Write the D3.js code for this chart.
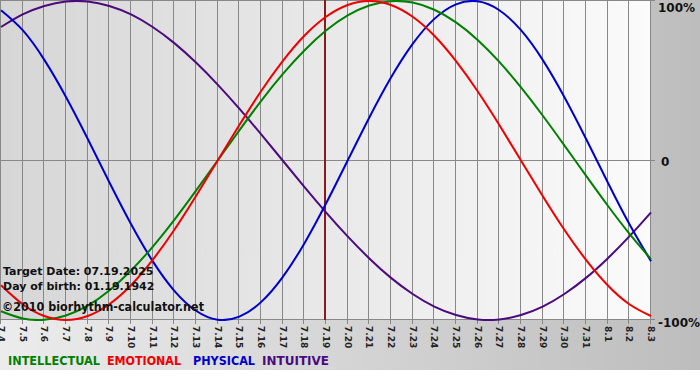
<!DOCTYPE html>
<html>
<head>
<meta charset="utf-8">
<script src="https://cdn.jsdelivr.net/npm/d3@7"></script>
<style>
  body { margin: 0; background: #fff; }
  svg { display: block; font-family: "DejaVu Sans", Verdana, sans-serif; }
</style>
</head>
<body>
<svg id="chart" width="700" height="380"></svg>
<script>
// days shown on the chart
var days = ['7.4', '7.5', '7.6', '7.7', '7.8', '7.9', '7.10', '7.11', '7.12', '7.13', '7.14', '7.15',
    '7.16', '7.17', '7.18', '7.19', '7.20', '7.21', '7.22', '7.23', '7.24', '7.25', '7.26', '7.27',
    '7.28', '7.29', '7.30', '7.31', '8.1', '8.2', '8.3'];

var intellectual = [-0.945, -0.990, -0.999, -0.972, -0.910, -0.815, -0.690, -0.541, -0.372, -0.189,
    0, 0.189, 0.372, 0.541, 0.690, 0.815, 0.910, 0.972, 0.999, 0.990, 0.945, 0.866, 0.756, 0.618,
    0.458, 0.282, 0.095, -0.095, -0.282, -0.458, -0.618];
var emotional = [-0.782, -0.901, -0.975, -1.0, -0.975, -0.901, -0.782, -0.623, -0.434, -0.222,
    0, 0.222, 0.434, 0.623, 0.782, 0.901, 0.975, 1.0, 0.975, 0.901, 0.782, 0.623, 0.434, 0.222,
    0, -0.222, -0.434, -0.623, -0.782, -0.901, -0.975];
var physical = [0.942, 0.817, 0.631, 0.398, 0.136, -0.136, -0.398, -0.631, -0.817, -0.942,
    -0.998, -0.979, -0.888, -0.731, -0.520, -0.270, 0, 0.270, 0.520, 0.731, 0.888, 0.979, 0.998,
    0.942, 0.817, 0.631, 0.398, 0.136, -0.136, -0.398, -0.631];
var intuitive = [0.837, 0.916, 0.969, 0.997, 0.997, 0.969, 0.916, 0.837, 0.736, 0.614,
    0.476, 0.325, 0.165, 0, -0.165, -0.325, -0.476, -0.614, -0.736, -0.837, -0.916, -0.969,
    -0.997, -0.997, -0.969, -0.916, -0.837, -0.736, -0.614, -0.476, -0.325];

var targetDay = '7.19';
var yTicks = [1, 0, -1];
var yTickLabels = ['100%', '0', '-100%'];
var legend = ['INTELLECTUAL', 'EMOTIONAL', 'PHYSICAL', 'INTUITIVE'];
var colors = ['#008000', '#ee0000', '#0000cc', '#4b0a7d'];
var infoLines = ['Target Date: 07.19.2025', 'Day of birth: 01.19.1942'];
var copyright = '\u00a92010 biorhythm-calculator.net';

var svg = d3.select('#chart');
// note: "top" is taken by window.top, so use plot* names
var plotL = 1, plotR = 651, plotT = 1, plotB = 320;

var x = d3.scalePoint().domain(days).range([plotL, plotR]);
var y = d3.scaleLinear().domain([-1, 1]).range([plotB, plotT]);

var defs = svg.append('defs');
var bgGrad = defs.append('linearGradient').attr('id', 'bg');
bgGrad.append('stop').attr('offset', '0%').attr('stop-color', '#ececec');
bgGrad.append('stop').attr('offset', '100%').attr('stop-color', '#bdbdbd');
var plotGrad = defs.append('linearGradient').attr('id', 'plotbg');
plotGrad.append('stop').attr('offset', '0%').attr('stop-color', '#d6d6d6');
plotGrad.append('stop').attr('offset', '100%').attr('stop-color', '#fbfbfb');
defs.append('clipPath').attr('id', 'clip')
    .append('rect').attr('x', plotL - 1).attr('y', 0).attr('width', plotR - plotL + 2).attr('height', plotB + 1);

// outer background
svg.append('rect').attr('width', 700).attr('height', 370).attr('fill', 'url(#bg)');
svg.append('rect').attr('x', plotL - 1).attr('y', 0).attr('width', plotR - plotL + 1).attr('height', plotB)
    .attr('fill', 'url(#plotbg)');

// vertical grid with ticks below the plot
svg.append('g').selectAll('line').data(days).enter().append('line')
    .attr('x1', function (d) { return Math.round(x(d)) - 0.5; })
    .attr('x2', function (d) { return Math.round(x(d)) - 0.5; })
    .attr('y1', 0).attr('y2', plotB + 4)
    .attr('stroke', '#888').attr('stroke-width', 1);

// horizontal lines
svg.append('g').selectAll('line').data(yTicks).enter().append('line')
    .attr('x1', plotL - 1).attr('x2', plotR + 4)
    .attr('y1', function (d) { return Math.round(y(d)) - 0.5; })
    .attr('y2', function (d) { return Math.round(y(d)) - 0.5; })
    .attr('stroke', '#888').attr('stroke-width', 1);

// target day marker
svg.append('line')
    .attr('x1', Math.round(x(targetDay)) - 1).attr('x2', Math.round(x(targetDay)) - 1)
    .attr('y1', 0).attr('y2', plotB)
    .attr('stroke', '#8b1a1a').attr('stroke-width', 2);

// x labels, rotated
svg.append('g').selectAll('text').data(days).enter().append('text')
    .attr('transform', function (d) { return 'translate(' + (x(d) - 3) + ',' + (plotB + 6) + ') rotate(90)'; })
    .attr('font-size', 9).attr('font-weight', 'bold').attr('fill', '#222')
    .text(function (d) { return d; });

// y labels on the right
var yLabelPos = [[658, 12], [661, 166], [658, 327]];
svg.append('g').selectAll('text').data(yTickLabels).enter().append('text')
    .attr('x', function (d, i) { return yLabelPos[i][0]; })
    .attr('y', function (d, i) { return yLabelPos[i][1]; })
    .attr('font-size', 12).attr('font-weight', 'bold').attr('fill', '#111')
    .text(function (d) { return d; });

// curves
var line = d3.line()
    .x(function (d, i) { return x(days[i]); })
    .y(function (d) { return y(d); })
    .curve(d3.curveNatural);

var series = [intellectual, emotional, physical, intuitive];
var curves = svg.append('g').attr('clip-path', 'url(#clip)');
// draw intuitive first, like the original
[3, 2, 0, 1].forEach(function (k) {
    curves.append('path')
        .attr('d', line(series[k]))
        .attr('fill', 'none')
        .attr('stroke', colors[k])
        .attr('stroke-width', 2);
});

// info text
svg.append('g').selectAll('text').data(infoLines).enter().append('text')
    .attr('x', 3).attr('y', function (d, i) { return 275 + i * 15; })
    .attr('font-size', 11).attr('font-weight', 'bold').attr('fill', '#111')
    .text(function (d) { return d; });
svg.append('text').attr('x', 2).attr('y', 311)
    .attr('font-size', 12).attr('font-weight', 'bold').attr('fill', '#111')
    .attr('textLength', 202).attr('lengthAdjust', 'spacingAndGlyphs')
    .text(copyright);

// legend
var legendX = [8, 107, 193, 262];
var legendW = [92, 74, 62, 67];
legend.forEach(function (name, i) {
    svg.append('text').attr('x', legendX[i]).attr('y', 365)
        .attr('font-size', 11.5).attr('font-weight', 'bold').attr('fill', colors[i])
        .attr('textLength', legendW[i]).attr('lengthAdjust', 'spacingAndGlyphs')
        .text(name);
});
</script>
</body>
</html>
